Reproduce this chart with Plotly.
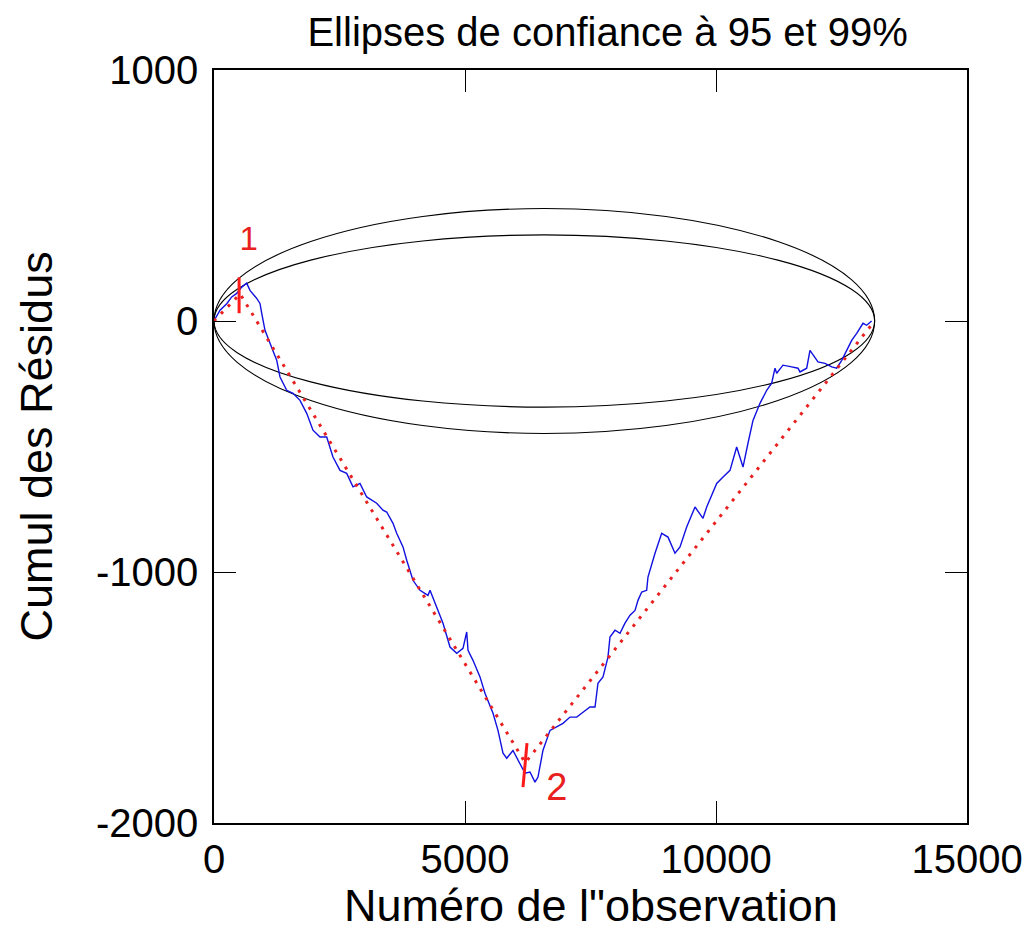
import plotly.graph_objects as go

# ---- data ----
obs = [0, 120, 253, 353, 452, 552, 651, 717, 851, 916, 950, 1016, 1116, 1249, 1315, 1448, 1574,
       1713, 1847, 1972, 2112, 2245, 2370, 2510, 2643, 2769, 2908, 3042, 3241, 3366, 3440, 3566,
       3639, 3765, 3839, 3964, 4104, 4263, 4303, 4436, 4562, 4701, 4835, 4960, 5034, 5060, 5159,
       5299, 5398, 5558, 5657, 5757, 5831, 5956, 6096, 6195, 6295, 6394, 6454, 6554, 6693, 6827,
       6952, 7092, 7225, 7325, 7490, 7590, 7649, 7749, 7848, 7888, 7988, 8088, 8187, 8287, 8387,
       8446, 8520, 8619, 8645, 8785, 8918, 9044, 9183, 9283, 9416, 9582, 9741, 9815, 10014, 10140,
       10279, 10412, 10538, 10637, 10737, 10876, 11010, 11109, 11175, 11209, 11334, 11508, 11633,
       11673, 11807, 11872, 11972, 12032, 12171, 12305, 12405, 12504, 12604, 12703, 12803, 12928,
       13002, 13100]
cusum = [0, 43, 69, 96, 110, 135, 151, 122, 90, 70, 31, -37, -89, -156, -223, -276, -288,
         -316, -368, -435, -462, -462, -542, -595, -607, -661, -647, -701, -726, -754, -761, -806,
         -846, -900, -953, -1033, -1073, -1093, -1073, -1139, -1204, -1299, -1324, -1304, -1239, -1312, -1352,
         -1418, -1483, -1563, -1631, -1722, -1742, -1711, -1763, -1802, -1797, -1837, -1817, -1710, -1631, -1617,
         -1603, -1578, -1578, -1563, -1538, -1538, -1443, -1418, -1339, -1259, -1232, -1244, -1204, -1172, -1153,
         -1113, -1080, -1073, -1020, -925, -846, -861, -925, -900, -821, -741, -786, -741, -647, -622,
         -595, -502, -582, -487, -396, -328, -276, -248, -188, -208, -176, -183, -188,
         -203, -188, -117, -143, -163, -169, -183, -188, -157, -117, -77, -49, -9,
         -17, 0]

# piecewise-linear fit through the detected break points
fit_obs = [0, 520, 6200, 13160]
fit_val = [0, 108, -1760, 0]

# break markers
break_labels = ["1", "2"]
break1_x = [500, 500]
break1_y = [31, 174]
break2_x = [6155, 6235]
break2_y = [-1857, -1682]
label_x = [690, 6830]
label_y = [315, -1870]

# confidence ellipses (95 % and 99 %)
n_obs = 13160
ellipse_half_heights = [343, 448]

x_ticks = [0, 5000, 10000, 15000]
x_ticktext = ["0", "5000", "10000", "15000"]
y_ticks = [1000, 0, -1000, -2000]
y_ticktext = ["1000", "0", "-1000", "-2000"]

FONT = "Liberation Sans, Arial, sans-serif"

fig = go.Figure()

fig.add_trace(go.Scatter(x=obs, y=cusum, mode="lines",
                         line=dict(color="#1010e0", width=1.4), hoverinfo="skip"))
fig.add_trace(go.Scatter(x=fit_obs, y=fit_val, mode="lines",
                         line=dict(color="#e82020", width=3, dash="3px,7px"), hoverinfo="skip"))
fig.add_trace(go.Scatter(x=break1_x, y=break1_y, mode="lines",
                         line=dict(color="#ff1a1a", width=3), hoverinfo="skip"))
fig.add_trace(go.Scatter(x=break2_x, y=break2_y, mode="lines",
                         line=dict(color="#ff1a1a", width=3), hoverinfo="skip"))
fig.add_trace(go.Scatter(x=label_x, y=label_y, mode="text", text=break_labels,
                         textfont=dict(color="#e82020", size=[33, 38], family=FONT),
                         hoverinfo="skip"))

for h in ellipse_half_heights:
    fig.add_shape(type="circle", xref="x", yref="y", x0=0, x1=n_obs, y0=-h, y1=h,
                  line=dict(color="black", width=1.1), layer="below")

axis_common = dict(showgrid=False, zeroline=False, showline=True, linecolor="black",
                   linewidth=1.5, mirror="allticks", ticks="inside", ticklen=22,
                   tickcolor="black", tickwidth=1.3, automargin=False,
                   tickfont=dict(family=FONT, size=40, color="black"))

fig.update_xaxes(range=[0, 15000], tickvals=x_ticks, ticktext=x_ticktext, **axis_common)
fig.update_yaxes(range=[-2000, 1000], tickvals=y_ticks, ticktext=y_ticktext,
                 ticklabelstandoff=6, **axis_common)

# the page body has an 8px default margin, so the figure is sized to fit inside it
fig.update_layout(
    width=1025, height=926,
    margin=dict(l=206, r=66, t=62, b=111),
    paper_bgcolor="white", plot_bgcolor="white",
    showlegend=False,
    title=dict(text="Ellipses de confiance à 95 et 99%", xref="container", x=0.585,
               xanchor="center", y=0.974, yanchor="middle", yref="container",
               automargin=False,
               font=dict(family=FONT, size=40, color="black")),
    annotations=[
        dict(text="Numéro de l\"observation", xref="paper", yref="paper",
             x=0.5, y=0, yshift=-82, xanchor="center", yanchor="middle",
             showarrow=False, font=dict(family=FONT, size=45, color="black")),
        dict(text="Cumul des Résidus", xref="paper", yref="paper",
             x=0, y=0.5, xshift=-178, yshift=0, xanchor="center", yanchor="middle",
             textangle=-90, showarrow=False,
             font=dict(family=FONT, size=45, color="black")),
    ],
)

fig.write_html("out.html")
